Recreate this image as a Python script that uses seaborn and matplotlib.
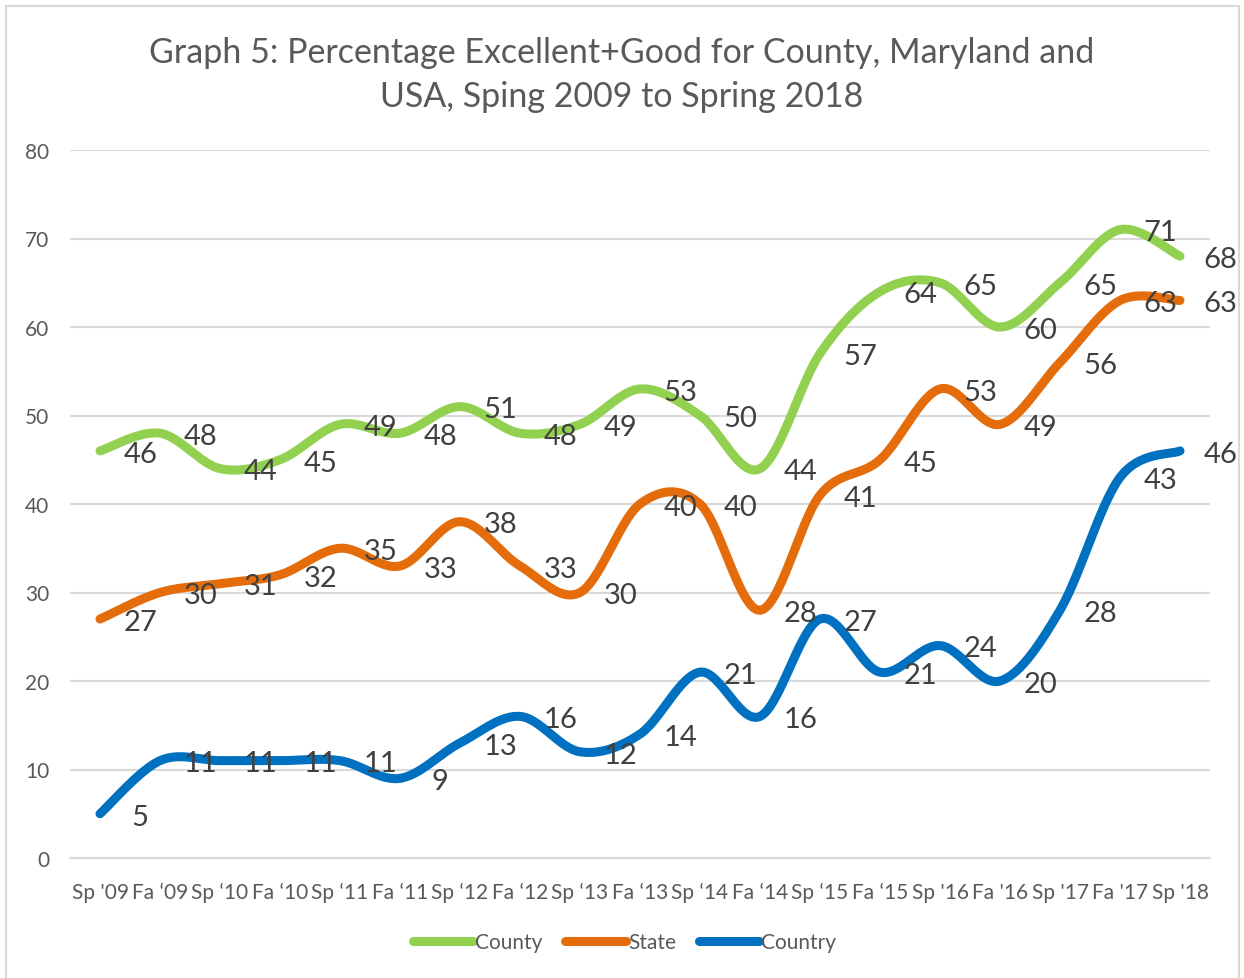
import numpy as np
import pandas as pd
import matplotlib
matplotlib.use("Agg")
import matplotlib.pyplot as plt
from matplotlib.lines import Line2D
from matplotlib.patches import Rectangle
import seaborn as sns

# ---- data ----
terms = ["Sp '09", "Fa \u201809", "Sp \u201810", "Fa \u201810", "Sp \u201811", "Fa \u201811",
         "Sp \u201812", "Fa \u201812", "Sp \u201813", "Fa \u201813", "Sp \u201814", "Fa \u201814",
         "Sp \u201815", "Fa \u201815", "Sp '16", "Fa '16", "Sp '17", "Fa '17", "Sp '18"]
county = [46, 48, 44, 45, 49, 48, 51, 48, 49, 53, 50, 44, 57, 64, 65, 60, 65, 71, 68]
state = [27, 30, 31, 32, 35, 33, 38, 33, 30, 40, 40, 28, 41, 45, 53, 49, 56, 63, 63]
country = [5, 11, 11, 11, 11, 9, 13, 16, 12, 14, 21, 16, 27, 21, 24, 20, 28, 43, 46]

series = ["County", "State", "Country"]
colors = {"County": "#92D050", "State": "#E46C0A", "Country": "#0070C0"}

df = pd.DataFrame({"term": terms, "County": county, "State": state, "Country": country})
df["pos"] = np.arange(len(df))


def smooth(x, y, n=30):
    # Catmull-Rom spline, roughly what Excel's "smoothed line" does
    x = np.asarray(x, float)
    y = np.asarray(y, float)
    px = np.concatenate([[x[0]], x, [x[-1]]])
    py = np.concatenate([[y[0]], y, [y[-1]]])
    xs, ys = [], []
    t = np.linspace(0, 1, n, endpoint=False)
    for i in range(1, len(px) - 2):
        for p, out in ((px, xs), (py, ys)):
            p0, p1, p2, p3 = p[i - 1], p[i], p[i + 1], p[i + 2]
            out.extend(0.5 * (2 * p1 + (-p0 + p2) * t
                              + (2 * p0 - 5 * p1 + 4 * p2 - p3) * t ** 2
                              + (-p0 + 3 * p1 - 3 * p2 + p3) * t ** 3))
    xs.append(x[-1])
    ys.append(y[-1])
    return np.array(xs), np.array(ys)


sns.set_theme(style="white")
plt.rcParams["font.family"] = ["Lato", "DejaVu Sans"]
grey = "#595959"

fig = plt.figure(figsize=(12.44, 9.79), dpi=100)
ax = fig.add_axes([70 / 1244, 1 - 859 / 979, 1140 / 1244, 708 / 979])

for name in series:
    xs, ys = smooth(df["pos"], df[name])
    sns.lineplot(x=xs, y=ys, ax=ax, color=colors[name], linewidth=6.5,
                 sort=False, estimator=None, zorder=3)
    ax.lines[-1].set_solid_capstyle("round")
    # data labels to the right of each point
    for xi, v in zip(df["pos"], df[name]):
        ax.annotate(str(v), (xi, v), xytext=(29, -2), textcoords="offset points",
                    ha="center", va="center", fontsize=21, color="#404040", zorder=4)

ax.set_xlim(-0.5, len(terms) - 0.5)
ax.set_ylim(0, 80)
ax.set_yticks(range(0, 81, 10))
ax.set_xticks(df["pos"])
ax.set_xticklabels(terms)
ax.tick_params(axis="both", length=0, labelsize=15, labelcolor=grey)
ax.tick_params(axis="x", pad=17)
ax.tick_params(axis="y", pad=15)
ax.yaxis.grid(True, color="#d9d9d9", linewidth=1.5)
ax.set_axisbelow(True)
for s in ["top", "right", "left"]:
    ax.spines[s].set_visible(False)
ax.spines["bottom"].set_color("#d9d9d9")
ax.spines["bottom"].set_linewidth(1.5)
ax.set_xlabel("")
ax.set_ylabel("")

fig.text(0.5, 1 - 75 / 979,
         "Graph 5: Percentage Excellent+Good for County, Maryland and\nUSA, Sping 2009 to Spring 2018",
         ha="center", va="center", fontsize=24.5, color=grey, linespacing=1.45)

handles = [Line2D([0], [0], color=colors[n], linewidth=6.5, solid_capstyle="round") for n in series]
fig.legend(handles, series, loc="center", bbox_to_anchor=(0.502, 1 - 943 / 979), ncol=3,
           frameon=False, fontsize=15, labelcolor=grey, handlelength=2.9,
           handletextpad=0.1, columnspacing=1.1)

fig.add_artist(Rectangle((6 / 1244, -0.01), 1233 / 1244, 1.01 - 7 / 979, transform=fig.transFigure,
                         fill=False, edgecolor="#d9d9d9", linewidth=1.5))

fig.savefig("out.png", dpi=100)
